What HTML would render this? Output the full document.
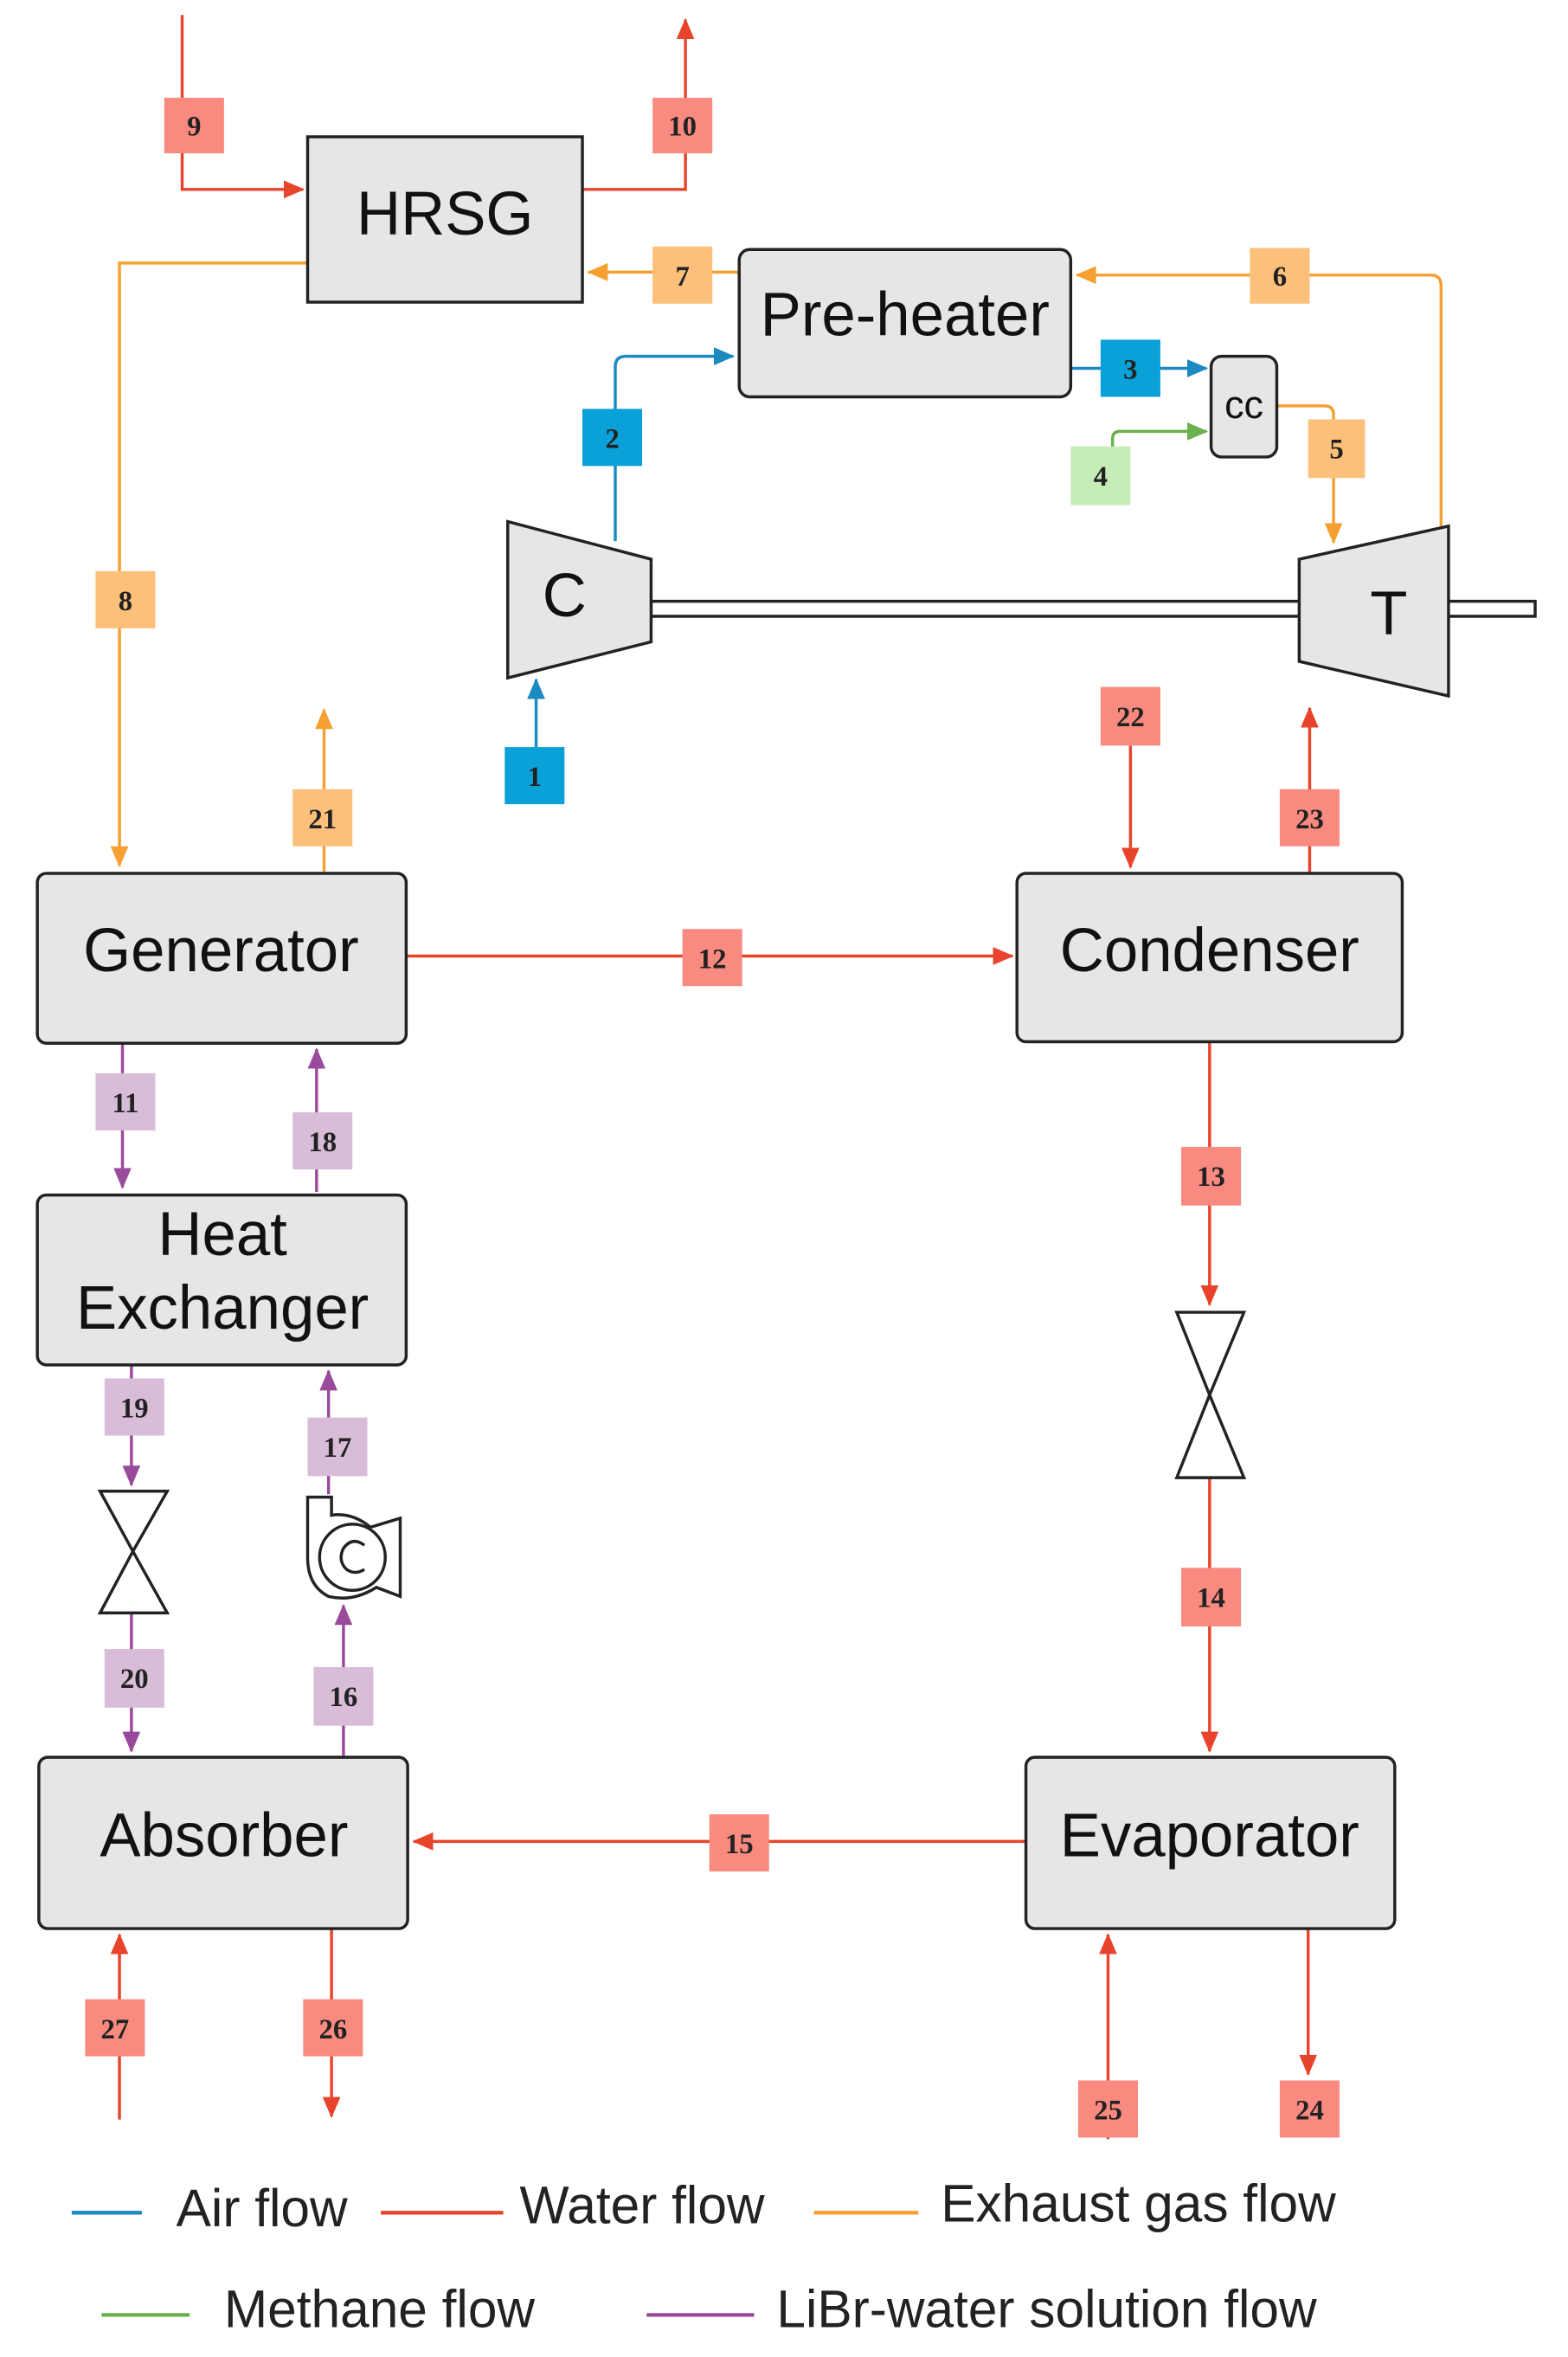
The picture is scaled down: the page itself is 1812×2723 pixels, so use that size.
<!DOCTYPE html>
<html><head><meta charset="utf-8"><style>
html,body{margin:0;padding:0;background:#fff;}
svg{display:block;}
.box{fill:#e6e6e6;stroke:#222;stroke-width:2;}
.bt{font-family:"Liberation Sans",sans-serif;font-size:41px;fill:#111;text-anchor:middle;}
.lb{font-family:"Liberation Serif",serif;font-weight:bold;font-size:19px;fill:#222;text-anchor:middle;}
.lg{font-family:"Liberation Sans",sans-serif;font-size:35px;fill:#222;}
.r{stroke:#e8442c;stroke-width:2;fill:none;}
.o{stroke:#f5a030;stroke-width:2;fill:none;}
.b{stroke:#1a8ac0;stroke-width:2;fill:none;}
.g{stroke:#6ab04c;stroke-width:2;fill:none;}
.p{stroke:#9a4a9a;stroke-width:2;fill:none;}
</style></head><body>
<svg width="1812" height="2723" viewBox="0 0 1050 1568" preserveAspectRatio="none" xmlns="http://www.w3.org/2000/svg">
<defs>
<marker id="ar" markerWidth="14" markerHeight="12" refX="13" refY="6" orient="auto" markerUnits="userSpaceOnUse" viewBox="0 0 14 12"><path d="M0,0 L14,6 L0,12z" fill="#e8442c"/></marker>
<marker id="ao" markerWidth="14" markerHeight="12" refX="13" refY="6" orient="auto" markerUnits="userSpaceOnUse" viewBox="0 0 14 12"><path d="M0,0 L14,6 L0,12z" fill="#f5a030"/></marker>
<marker id="ab" markerWidth="14" markerHeight="12" refX="13" refY="6" orient="auto" markerUnits="userSpaceOnUse" viewBox="0 0 14 12"><path d="M0,0 L14,6 L0,12z" fill="#1a8ac0"/></marker>
<marker id="ag" markerWidth="14" markerHeight="12" refX="13" refY="6" orient="auto" markerUnits="userSpaceOnUse" viewBox="0 0 14 12"><path d="M0,0 L14,6 L0,12z" fill="#6ab04c"/></marker>
<marker id="ap" markerWidth="14" markerHeight="12" refX="13" refY="6" orient="auto" markerUnits="userSpaceOnUse" viewBox="0 0 14 12"><path d="M0,0 L14,6 L0,12z" fill="#9a4a9a"/></marker>
</defs>

<path class="r" d="M122,10 V126 H203" marker-end="url(#ar)"/>
<path class="r" d="M390,126 H459 V13" marker-end="url(#ar)"/>
<path class="o" d="M965,350 V190 Q965,183 958,183 H721" marker-end="url(#ao)"/>
<path class="o" d="M495,181 H394" marker-end="url(#ao)"/>
<path class="o" d="M206,175 H80 V576" marker-end="url(#ao)"/>
<path class="b" d="M412,360 V244 Q412,237 419,237 H491" marker-end="url(#ab)"/>
<path class="b" d="M717,245 H808" marker-end="url(#ab)"/>
<path class="g" d="M745,300 V292 Q745,287 750,287 H808" marker-end="url(#ag)"/>
<path class="o" d="M855,270 H887 Q893,270 893,276 V361" marker-end="url(#ao)"/>
<path class="b" d="M359,497 V452" marker-end="url(#ab)"/>
<path class="o" d="M217,580 V472" marker-end="url(#ao)"/>
<path class="r" d="M272,636 H678" marker-end="url(#ar)"/>
<path class="r" d="M757,496 V577" marker-end="url(#ar)"/>
<path class="r" d="M877,581 V471" marker-end="url(#ar)"/>
<path class="p" d="M82,694 V790" marker-end="url(#ap)"/>
<path class="p" d="M212,793 V698" marker-end="url(#ap)"/>
<path class="r" d="M810,693 V868" marker-end="url(#ar)"/>
<path class="r" d="M810,983 V1165" marker-end="url(#ar)"/>
<path class="p" d="M88,908 V988" marker-end="url(#ap)"/>
<path class="p" d="M220,994 V912" marker-end="url(#ap)"/>
<path class="p" d="M88,1073 V1165" marker-end="url(#ap)"/>
<path class="p" d="M230,1168 V1068" marker-end="url(#ap)"/>
<path class="r" d="M687,1225 H277" marker-end="url(#ar)"/>
<path class="r" d="M80,1410 V1287" marker-end="url(#ar)"/>
<path class="r" d="M222,1283 V1408" marker-end="url(#ar)"/>
<path class="r" d="M742,1423 V1287" marker-end="url(#ar)"/>
<path class="r" d="M876,1283 V1380" marker-end="url(#ar)"/>

<rect class="box" x="206" y="91" width="184" height="110"/>
<text class="bt" x="298" y="156">HRSG</text>
<rect class="box" x="495" y="166" width="222" height="98" rx="7"/>
<text class="bt" x="606" y="223">Pre-heater</text>
<rect class="box" x="811" y="237" width="44" height="67" rx="7"/>
<text class="bt" x="833" y="278" style="font-size:26px">cc</text>
<rect class="box" x="25" y="581" width="247" height="113" rx="6"/>
<text class="bt" x="148" y="646">Generator</text>
<rect class="box" x="681" y="581" width="258" height="112" rx="6"/>
<text class="bt" x="810" y="646">Condenser</text>
<rect class="box" x="25" y="795" width="247" height="113" rx="6"/>
<text class="bt" x="149" y="835">Heat</text>
<text class="bt" x="149" y="884">Exchanger</text>
<rect class="box" x="26" y="1169" width="247" height="114" rx="6"/>
<text class="bt" x="150" y="1235">Absorber</text>
<rect class="box" x="687" y="1169" width="247" height="114" rx="6"/>
<text class="bt" x="810" y="1235">Evaporator</text>

<rect x="436" y="400" width="592" height="10" fill="#fff" stroke="#222" stroke-width="2"/>
<polygon class="box" points="340,347 436,372 436,427 340,451"/>
<text class="bt" x="378" y="410">C</text>
<polygon class="box" points="870,372 970,350 970,463 870,440"/>
<text class="bt" x="930" y="422">T</text>

<polygon points="788,873 833,873 810,928" fill="#fff" stroke="#222" stroke-width="2"/>
<polygon points="788,983 833,983 810,928" fill="#fff" stroke="#222" stroke-width="2"/>
<polygon points="67,992 112,992 89,1032" fill="#fff" stroke="#222" stroke-width="2"/>
<polygon points="67,1073 112,1073 89,1032" fill="#fff" stroke="#222" stroke-width="2"/>
<path d="M206,996 H222 V1008 Q236,1006 248,1016 L268,1010 V1062 L252,1056 Q236,1066 220,1062 Q206,1055 206,1036 Z" fill="#fff" stroke="#222" stroke-width="2"/>
<circle cx="236" cy="1036" r="22" fill="#fff" stroke="#222" stroke-width="2"/>
<path d="M244,1028 Q236,1022 230,1030 Q226,1038 232,1044 Q238,1048 244,1044" fill="none" stroke="#222" stroke-width="2"/>

<g>
<rect x="110" y="65" width="40" height="37" fill="#f98a80"/><text class="lb" x="130" y="90">9</text>
<rect x="437" y="65" width="40" height="37" fill="#f98a80"/><text class="lb" x="457" y="90">10</text>
<rect x="437" y="164" width="40" height="38" fill="#fdc07a"/><text class="lb" x="457" y="190">7</text>
<rect x="837" y="165" width="40" height="37" fill="#fdc07a"/><text class="lb" x="857" y="190">6</text>
<rect x="390" y="272" width="40" height="38" fill="#0aa0d8"/><text class="lb" x="410" y="298">2</text>
<rect x="737" y="226" width="40" height="38" fill="#0aa0d8"/><text class="lb" x="757" y="252">3</text>
<rect x="717" y="297" width="40" height="39" fill="#c6edb7"/><text class="lb" x="737" y="323">4</text>
<rect x="876" y="279" width="38" height="39" fill="#fdc07a"/><text class="lb" x="895" y="305">5</text>
<rect x="64" y="380" width="40" height="38" fill="#fdc07a"/><text class="lb" x="84" y="406">8</text>
<rect x="338" y="497" width="40" height="38" fill="#0aa0d8"/><text class="lb" x="358" y="523">1</text>
<rect x="196" y="525" width="40" height="38" fill="#fdc07a"/><text class="lb" x="216" y="551">21</text>
<rect x="737" y="457" width="40" height="39" fill="#f98a80"/><text class="lb" x="757" y="483">22</text>
<rect x="857" y="525" width="40" height="38" fill="#f98a80"/><text class="lb" x="877" y="551">23</text>
<rect x="457" y="618" width="40" height="38" fill="#f98a80"/><text class="lb" x="477" y="644">12</text>
<rect x="64" y="714" width="40" height="38" fill="#d8bcd8"/><text class="lb" x="84" y="740">11</text>
<rect x="196" y="740" width="40" height="38" fill="#d8bcd8"/><text class="lb" x="216" y="766">18</text>
<rect x="791" y="763" width="40" height="39" fill="#f98a80"/><text class="lb" x="811" y="789">13</text>
<rect x="70" y="917" width="40" height="38" fill="#d8bcd8"/><text class="lb" x="90" y="943">19</text>
<rect x="206" y="943" width="40" height="39" fill="#d8bcd8"/><text class="lb" x="226" y="969">17</text>
<rect x="791" y="1043" width="40" height="39" fill="#f98a80"/><text class="lb" x="811" y="1069">14</text>
<rect x="70" y="1097" width="40" height="39" fill="#d8bcd8"/><text class="lb" x="90" y="1123">20</text>
<rect x="210" y="1109" width="40" height="39" fill="#d8bcd8"/><text class="lb" x="230" y="1135">16</text>
<rect x="475" y="1207" width="40" height="38" fill="#f98a80"/><text class="lb" x="495" y="1233">15</text>
<rect x="57" y="1330" width="40" height="38" fill="#f98a80"/><text class="lb" x="77" y="1356">27</text>
<rect x="203" y="1330" width="40" height="38" fill="#f98a80"/><text class="lb" x="223" y="1356">26</text>
<rect x="722" y="1384" width="40" height="38" fill="#f98a80"/><text class="lb" x="742" y="1410">25</text>
<rect x="857" y="1384" width="40" height="38" fill="#f98a80"/><text class="lb" x="877" y="1410">24</text>
</g>

<line x1="48" y1="1472" x2="95" y2="1472" stroke="#1a8ac0" stroke-width="2.5"/>
<text class="lg" x="118" y="1481">Air flow</text>
<line x1="255" y1="1472" x2="337" y2="1472" stroke="#e8442c" stroke-width="2.5"/>
<text class="lg" x="348" y="1479">Water flow</text>
<line x1="545" y1="1472" x2="615" y2="1472" stroke="#f5a030" stroke-width="2.5"/>
<text class="lg" x="630" y="1478">Exhaust gas flow</text>
<line x1="68" y1="1540" x2="127" y2="1540" stroke="#6ab04c" stroke-width="2.5"/>
<text class="lg" x="150" y="1548">Methane flow</text>
<line x1="433" y1="1540" x2="505" y2="1540" stroke="#9a4a9a" stroke-width="2.5"/>
<text class="lg" x="520" y="1548">LiBr-water solution flow</text>
</svg>
</body></html>
